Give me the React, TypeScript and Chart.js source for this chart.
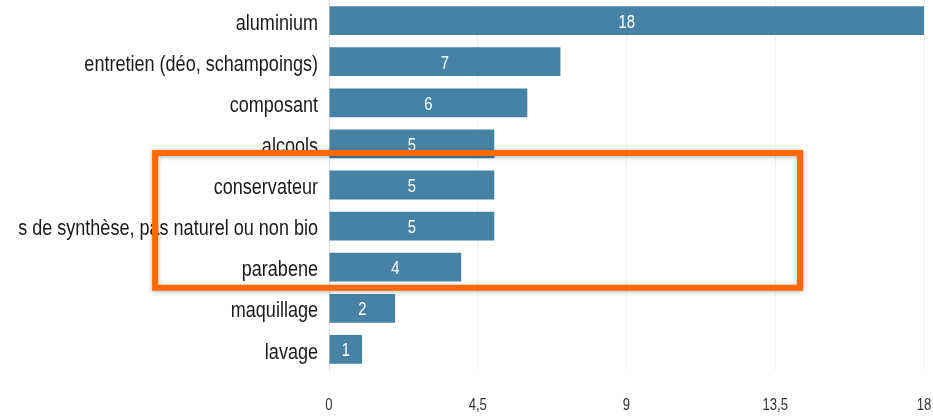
import React, { useEffect, useRef } from "react";
import { Chart, registerables } from "chart.js";

Chart.register(...registerables);

const categories = [
  "aluminium",
  "entretien (déo, schampoings)",
  "composant",
  "alcools",
  "conservateur",
  "s de synthèse, pas naturel ou non bio",
  "parabene",
  "maquillage",
  "lavage",
];
const counts = [18, 7, 6, 5, 5, 5, 4, 2, 1];
const xTicks = [0, 4.5, 9, 13.5, 18];
// highlight box (in axis units)
const boxX = [-5.26, 14.25];
const boxY = [3.22, 6.5];

const FONT = "'Liberation Sans', Arial, sans-serif";
const NARROW = 0.82;

function drawNarrow(ctx: any, text: string, x: number, y: number, align: string, size: number, color: string) {
  ctx.save();
  ctx.font = `${size}px ${FONT}`;
  ctx.fillStyle = color;
  ctx.textBaseline = "middle";
  ctx.textAlign = align;
  ctx.translate(x, y);
  ctx.scale(NARROW, 1);
  ctx.fillText(text, 0, 0);
  ctx.restore();
}

const customText = {
  id: "customText",
  afterDatasetsDraw(chart: any) {
    const ctx = chart.ctx;
    const meta = chart.getDatasetMeta(0);
    meta.data.forEach((bar: any, i: number) => {
      const cx = (bar.x + bar.base) / 2;
      drawNarrow(ctx, String(counts[i]), cx, bar.y + 2, "center", 18, "#ffffff");
    });
    const ys = chart.scales.y;
    const xs = chart.scales.x;
    categories.forEach((c, i) => {
      drawNarrow(ctx, c, xs.left - 11, ys.getPixelForValue(i) + 3, "right", 22, "#1a1a1a");
    });
    xTicks.forEach((v) => {
      drawNarrow(ctx, String(v).replace(".", ","), xs.getPixelForValue(v), 406, "center", 16, "#333333");
    });
  },
};

const highlightBox = {
  id: "highlightBox",
  afterDraw(chart: any) {
    const ctx = chart.ctx;
    const xs = chart.scales.x;
    const ys = chart.scales.y;
    const l = xs.getPixelForValue(boxX[0]);
    const r = xs.getPixelForValue(boxX[1]);
    const t = ys.getPixelForValue(boxY[0]);
    const b = ys.getPixelForValue(boxY[1]);
    ctx.save();
    ctx.shadowColor = "rgba(0,0,0,0.3)";
    ctx.shadowBlur = 4;
    ctx.shadowOffsetY = 1;
    ctx.strokeStyle = "#ff6a00";
    ctx.lineWidth = 6;
    ctx.strokeRect(l, t, r - l, b - t);
    ctx.restore();
  },
};

export default function App() {
  const ref = useRef<HTMLCanvasElement>(null);
  useEffect(() => {
    if (!ref.current) return;
    const chart = new Chart(ref.current, {
      type: "bar",
      data: {
        labels: categories,
        datasets: [
          {
            data: counts,
            backgroundColor: "#4582a3",
            borderWidth: 0,
            barPercentage: 0.7,
            categoryPercentage: 1,
          },
        ],
      },
      options: {
        indexAxis: "y",
        animation: false,
        responsive: true,
        maintainAspectRatio: false,
        layout: { padding: { top: 0, right: 9, bottom: 0, left: 0 } },
        plugins: { legend: { display: false }, tooltip: { enabled: false } },
        scales: {
          x: {
            min: 0,
            max: 18,
            afterBuildTicks(scale: any) {
              scale.ticks = xTicks.map((v) => ({ value: v }));
            },
            afterFit(scale: any) {
              scale.height = 48;
              scale.paddingLeft = 0;
              scale.paddingRight = 0;
              scale.paddingTop = 0;
              scale.paddingBottom = 0;
            },
            ticks: {
              padding: 27,
              color: "rgba(0,0,0,0)",
              font: { family: FONT, size: 15 },
              callback: (v: any) => String(v).replace(".", ","),
              maxRotation: 0,
              autoSkip: false,
            },
            grid: { color: "#f0f0f0", drawTicks: false },
            border: { display: false },
          },
          y: {
            afterFit(scale: any) {
              scale.width = 329;
              scale.paddingTop = 0;
              scale.paddingBottom = 0;
              scale.paddingLeft = 0;
              scale.paddingRight = 0;
            },
            ticks: {
              padding: 11,
              color: "rgba(0,0,0,0)",
              font: { family: FONT, size: 22 },
              autoSkip: false,
            },
            grid: { display: false, drawTicks: false },
            border: { display: true, color: "#dddddd" },
          },
        },
      },
      plugins: [customText, highlightBox],
    });
    return () => chart.destroy();
  }, []);
  return (
    <div style={{ position: "fixed", left: 0, top: 0, width: 933, height: 418, background: "#fff" }}>
      <canvas ref={ref} />
    </div>
  );
}
